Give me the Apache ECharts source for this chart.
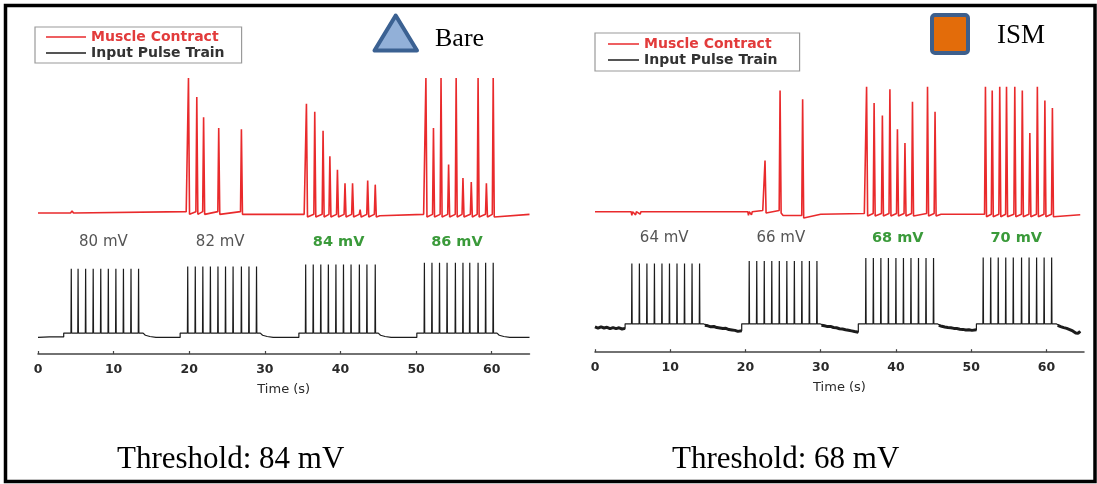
<!DOCTYPE html>
<html><head><meta charset="utf-8">
<script src="https://cdn.jsdelivr.net/npm/echarts@6/dist/echarts.min.js"></script>
<style>html,body{margin:0;padding:0;background:#fff}#c{width:1097px;height:484px}</style>
</head><body><div id="c"></div>
<script>
// ---------- DATA ----------
const timeTicks = [0, 10, 20, 30, 40, 50, 60];
const seriesNames = ['Muscle Contract', 'Input Pulse Train'];
const panelTitles = ['Bare', 'ISM'];
const thresholdTexts = ['Threshold: 84 mV', 'Threshold: 68 mV'];
const axisTitle = 'Time (s)';

// Bare panel: amplitude labels
const bareAmpLabels = ['80 mV', '82 mV', '84 mV', '86 mV'];
const bareAboveThreshold = [false, false, true, true];
// Bare panel: input pulse trains (time in s, amplitude in mV)
const bareTrainStart = [3.4, 18.8, 34.5, 50.1];
const bareTrainEnd = [13.9, 29.4, 45.0, 60.7];
const barePlateau = [4.5, 4.5, 4.5, 4.5];
const bareSpikeAmp = [80, 82.5, 85, 87];
const bareSpikeTimes = [
  [4.4, 5.3, 6.3, 7.3, 8.3, 9.3, 10.3, 11.3, 12.3, 13.3],
  [19.8, 20.8, 21.8, 22.8, 23.8, 24.8, 25.8, 26.9, 27.9, 28.9],
  [35.4, 36.4, 37.4, 38.4, 39.4, 40.4, 41.4, 42.5, 43.5, 44.6],
  [51.1, 52.1, 53.1, 54.1, 55.2, 56.2, 57.1, 58.2, 59.2, 60.2]
];
const bareRest = [
  [[0, -0.5], [1.5, 0], [3.4, 0]],
  [[14.2, 2], [14.8, 0.5], [15.6, -0.5], [18.8, -0.5]],
  [[29.7, 2], [30.3, 0.5], [31.1, -0.5], [34.5, -0.5]],
  [[45.3, 2], [45.9, 0.5], [46.7, -0.5], [47.3, -0.5], [47.5, 0.8], [47.7, -0.5], [50.1, -0.5]],
  [[61.0, 2], [61.6, 0.5], [62.4, -0.5], [65, -0.5]]
];
// Bare panel: muscle contraction (normalised)
const bareContractBase = [[0, 0], [4.3, 0], [4.5, 0.015], [4.7, 0], [19.6, 0.01], [27.3, -0.02], [35.2, -0.01], [45.2, -0.02], [51.0, -0.01], [60.6, -0.03], [65, -0.01]];
const bareContractTimes = [19.9, 21.0, 21.9, 23.9, 26.9,
  35.5, 36.6, 37.7, 38.6, 39.6, 40.6, 41.6, 42.6, 43.6, 44.6,
  51.3, 52.3, 53.3, 54.3, 55.3, 56.2, 57.3, 58.2, 59.3, 60.2];
const bareContractPeaks = [1.0, 0.86, 0.71, 0.63, 0.62,
  0.81, 0.75, 0.61, 0.42, 0.32, 0.22, 0.22, 0.025, 0.24, 0.21,
  1.0, 0.63, 1.0, 0.36, 1.0, 0.26, 0.23, 1.0, 0.22, 1.0];

// ISM panel
const ismAmpLabels = ['64 mV', '66 mV', '68 mV', '70 mV'];
const ismAboveThreshold = [false, false, true, true];
const ismTrainStart = [4.0, 19.5, 35.0, 50.7];
const ismTrainEnd = [14.4, 29.9, 45.5, 61.3];
const ismPlateau = [4, 4, 4, 4];
const ismSpikeAmp = [64.5, 67, 70, 70.5];
const ismSpikeTimes = [
  [4.9, 5.9, 6.9, 7.9, 8.9, 9.9, 10.9, 11.9, 12.9, 13.9],
  [20.5, 21.5, 22.5, 23.5, 24.5, 25.5, 26.5, 27.5, 28.5, 29.5],
  [36.0, 37.0, 38.0, 39.0, 40.0, 41.0, 42.0, 43.0, 44.0, 45.0],
  [51.6, 52.6, 53.6, 54.6, 55.6, 56.7, 57.7, 58.7, 59.7, 60.7]
];
const ismRest = [
  [[0, 0.9], [0.4, -0.4], [0.8, 1.0], [1.2, -0.2], [1.6, 0.5], [2.0, -0.9], [2.4, 0.2], [2.8, -0.8], [3.2, 0.0], [3.6, -1.2], [4.0, -0.6]],
  [[14.6, 2.5], [15.0, 2.0], [15.4, 1.0], [15.8, 1.3], [16.2, 0.2], [16.6, -0.3], [17.0, -0.8], [17.4, -0.5], [17.8, -1.8], [18.2, -2.2], [18.6, -2.6], [19.0, -3.6], [19.5, -3.0]],
  [[30.1, 2.5], [30.5, 2.0], [30.9, 1.2], [31.3, 1.4], [31.7, 0.3], [32.1, 0.0], [32.5, -0.9], [32.9, -1.2], [33.3, -2.0], [33.7, -2.4], [34.1, -3.1], [34.5, -3.8], [35.0, -4.5]],
  [[45.7, 2.5], [46.1, 1.5], [46.5, 0.8], [46.9, 0.3], [47.3, 0.0], [47.7, -0.6], [48.1, -0.8], [48.5, -1.4], [48.9, -1.6], [49.3, -2.2], [49.7, -2.0], [50.1, -2.6], [50.7, -2.0]],
  [[61.5, 2.5], [61.9, 1.2], [62.3, 0.2], [62.7, -0.6], [63.1, -1.8], [63.5, -3.2], [63.9, -5.2], [64.2, -5.6], [64.5, -3.6]]
];
const ismContractBase = [[0, 0], [4.8, 0], [4.9, -0.03], [5.0, 0], [5.4, -0.025], [5.5, 0], [6.0, -0.02], [6.1, 0], [20.3, 0], [20.4, -0.03], [20.5, 0], [20.8, -0.025], [20.9, 0], [22.3, 0.01], [25.0, -0.03], [30, -0.02], [35.8, -0.015], [46, -0.02], [51.5, -0.02], [61.2, -0.04], [64.5, -0.025]];
const ismContractTimes = [22.6, 24.6, 27.6,
  36.1, 37.1, 38.2, 39.2, 40.2, 41.2, 42.2, 44.2, 45.2,
  51.9, 52.8, 53.8, 54.7, 55.8, 56.8, 57.8, 58.8, 59.8, 60.8];
const ismContractPeaks = [0.41, 0.97, 0.90,
  1.0, 0.87, 0.77, 0.98, 0.66, 0.55, 0.88, 1.0, 0.80,
  1.0, 0.97, 1.0, 1.0, 1.0, 0.97, 0.63, 1.0, 0.89, 0.83];

// ---------- BUILDERS ----------
function pulseData(rest, start, end, plateau, amp, spikes) {
  const d = [];
  for (let i = 0; i < start.length; i++) {
    rest[i].forEach(p => d.push(p));
    d.push([start[i], plateau[i]]);
    spikes[i].forEach(t => {
      d.push([t - 0.04, plateau[i]]);
      d.push([t, amp[i]]);
      d.push([t + 0.04, plateau[i]]);
    });
    d.push([end[i], plateau[i]]);
  }
  rest[start.length].forEach(p => d.push(p));
  return d;
}
function contractData(base, times, peaks) {
  const d = [];
  let bi = 0, foot = base[0][1];
  for (let s = 0; s < times.length; s++) {
    while (bi < base.length && base[bi][0] < times[s]) { d.push(base[bi]); foot = base[bi][1]; bi++; }
    d.push([times[s] - 0.12, foot]);
    d.push([times[s], peaks[s]]);
    d.push([times[s] + 0.14, foot - 0.02]);
  }
  while (bi < base.length) { d.push(base[bi]); bi++; }
  return d;
}

const RED = '#e92a2c';
const BLACK = '#1c1c1c';
const FONT = 'DejaVu Sans';

function timeAxis(gridIndex, visible) {
  return {
    type: 'value', gridIndex, min: 0, max: 65, interval: 10, show: visible,
    position: 'bottom',
    axisLine: { show: true, onZero: false, lineStyle: { color: '#444', width: 1.5 } },
    axisTick: { show: true, inside: true, length: 3, lineStyle: { color: '#444', width: 1.2 }, customValues: timeTicks },
    axisLabel: { show: true, margin: 9, color: '#2a2a2a', fontSize: 12.5, fontWeight: 'bold', fontFamily: FONT, customValues: timeTicks },
    splitLine: { show: false },
    name: visible ? axisTitle : '', nameLocation: 'middle', nameGap: 29,
    nameTextStyle: { color: '#2a2a2a', fontSize: 13, fontFamily: FONT }
  };
}
function hiddenY(gridIndex, min, max) {
  return { type: 'value', gridIndex, min, max, show: false, splitLine: { show: false } };
}
function line(name, color, width, xi, yi, data) {
  return {
    type: 'line', name, xAxisIndex: xi, yAxisIndex: yi, data,
    showSymbol: false, symbol: 'none', silent: true, animation: false, clip: false,
    color, lineStyle: { color, width }, z: 3
  };
}

const chart = echarts.init(document.getElementById('c'), null, { renderer: 'canvas' });

const series = [
  line(seriesNames[0], RED, 1.6, 0, 0, contractData(bareContractBase, bareContractTimes, bareContractPeaks)),
  line(seriesNames[1], BLACK, 1.2, 1, 1, pulseData(bareRest, bareTrainStart, bareTrainEnd, barePlateau, bareSpikeAmp, bareSpikeTimes)),
  line(seriesNames[0], RED, 1.6, 2, 2, contractData(ismContractBase, ismContractTimes, ismContractPeaks)),
  line(seriesNames[1], BLACK, 1.2, 3, 3, pulseData(ismRest, ismTrainStart, ismTrainEnd, ismPlateau, ismSpikeAmp, ismSpikeTimes))
];
ismRest.forEach(seg => series.push(line(seriesNames[1], BLACK, 3, 3, 3, seg)));

function legendCfg(left, top, itemWidth, pad) {
  return {
    orient: 'vertical', left, top, padding: pad, itemGap: 2,
    itemWidth, itemHeight: 1.5, icon: 'rect',
    borderColor: '#9a9a9a', borderWidth: 1.2, selectedMode: false,
    textStyle: { fontFamily: FONT, fontSize: 14, fontWeight: 'bold' },
    data: [
      { name: seriesNames[0], textStyle: { color: '#e23b3b' } },
      { name: seriesNames[1], textStyle: { color: '#333' } }
    ]
  };
}

chart.setOption({
  animation: false,
  backgroundColor: '#fff',
  grid: [
    { left: 38, top: 71.25, width: 491.5, height: 148.5, outerBoundsMode: 'none' },
    { left: 38, top: 251.7, width: 491.5, height: 102.3, outerBoundsMode: 'none' },
    { left: 595, top: 80.45, width: 489, height: 137.5, outerBoundsMode: 'none' },
    { left: 595, top: 228.2, width: 489, height: 124, outerBoundsMode: 'none' }
  ],
  xAxis: [timeAxis(0, false), timeAxis(1, true), timeAxis(2, false), timeAxis(3, true)],
  yAxis: [hiddenY(0, -0.05, 1.05), hiddenY(1, -20, 100), hiddenY(2, -0.05, 1.05), hiddenY(3, -24.5, 100)],
  legend: [legendCfg(35, 27, 40, [3, 17, 3, 11]), legendCfg(595, 33, 31, [4, 22, 4, 13])],
  series
});

// ---------- ANNOTATIONS ----------
const graphics = [];
graphics.push({ type: 'rect', shape: { x: 5.5, y: 5.5, width: 1089.5, height: 476 }, style: { fill: 'none', stroke: '#000', lineWidth: 3.5 }, z: 10 });
graphics.push({ type: 'polygon', shape: { points: [[374.5, 50.5], [417, 50.5], [395.7, 15.5]] }, style: { fill: '#92b0d8', stroke: '#3b6192', lineWidth: 4, lineJoin: 'round' }, z: 10 });
graphics.push({ type: 'rect', shape: { x: 932, y: 15, width: 36, height: 38, r: 3 }, style: { fill: '#e36c0a', stroke: '#3e5f8c', lineWidth: 4 }, z: 10 });
graphics.push({ type: 'text', x: 435, y: 39, style: { text: panelTitles[0], font: '26px "Liberation Serif"', fill: '#000', verticalAlign: 'middle', align: 'left' }, z: 10 });
graphics.push({ type: 'text', x: 997, y: 36, style: { text: panelTitles[1], font: '27px "Liberation Serif"', fill: '#000', verticalAlign: 'middle', align: 'left' }, z: 10 });
graphics.push({ type: 'text', x: 117, y: 460, style: { text: thresholdTexts[0], font: '31px "Liberation Serif"', fill: '#000', verticalAlign: 'middle', align: 'left' }, z: 10 });
graphics.push({ type: 'text', x: 672, y: 460, style: { text: thresholdTexts[1], font: '31px "Liberation Serif"', fill: '#000', verticalAlign: 'middle', align: 'left' }, z: 10 });

function ampLabels(xAxisIndex, starts, ends, labels, above, yPix) {
  labels.forEach((lab, i) => {
    const cx = chart.convertToPixel({ xAxisIndex }, (starts[i] + ends[i]) / 2);
    graphics.push({
      type: 'text', x: cx, y: yPix,
      style: {
        text: lab, fill: above[i] ? '#3a9a3a' : '#555',
        font: (above[i] ? 'bold 14.5px ' : '15px ') + '"DejaVu Sans"',
        align: 'center', verticalAlign: 'middle'
      }, z: 10
    });
  });
}
ampLabels(1, bareTrainStart, bareTrainEnd, bareAmpLabels, bareAboveThreshold, 242);
ampLabels(3, ismTrainStart, ismTrainEnd, ismAmpLabels, ismAboveThreshold, 238.5);

chart.setOption({ graphic: graphics });
</script>
</body></html>
